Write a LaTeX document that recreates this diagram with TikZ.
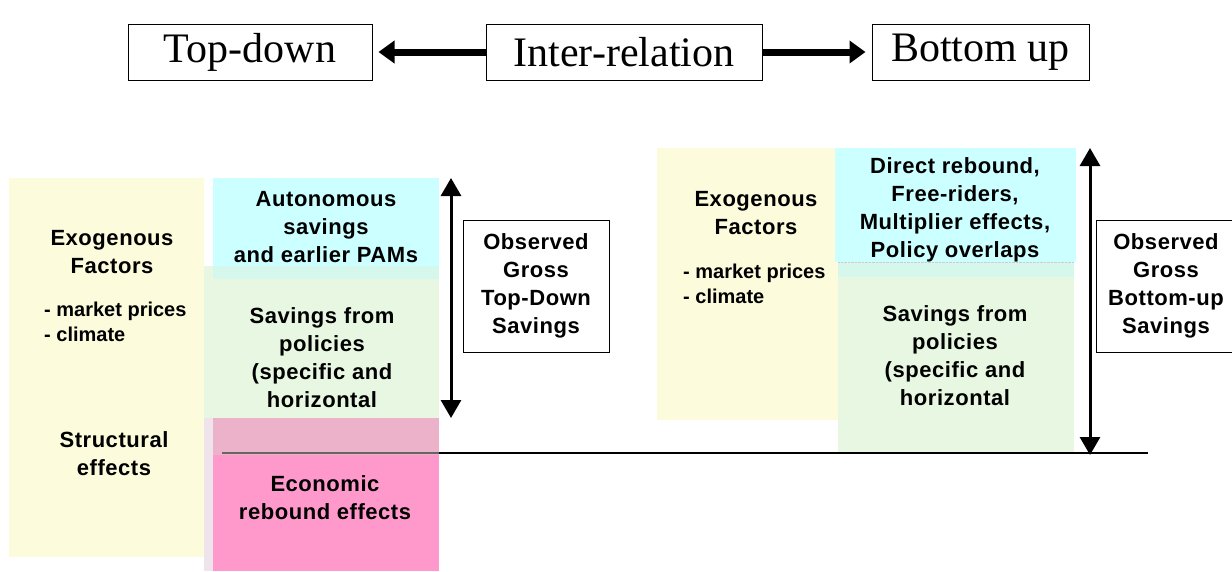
\documentclass[tikz,border=0pt]{standalone}
\usepackage{fontspec}
\setmainfont{Liberation Sans}
\newfontfamily\serifx{Liberation Serif}
\newfontfamily\lblfont[LetterSpace=2.5]{Liberation Sans}
\usetikzlibrary{arrows.meta}
\definecolor{yel}{RGB}{252,252,220}
\definecolor{cya}{RGB}{204,255,255}
\definecolor{cyafade}{RGB}{214,248,236}
\definecolor{grn}{RGB}{232,247,226}
\definecolor{pnk}{RGB}{255,153,204}
\definecolor{pnkfade}{RGB}{236,178,202}
\definecolor{strip}{RGB}{240,228,236}
\begin{document}
\begin{tikzpicture}[x=1pt,y=-1pt,
  lbl/.style={font=\lblfont\fontsize{22}{28}\selectfont\bfseries, align=center, inner sep=0pt},
  lst/.style={font=\fontsize{20}{25}\selectfont\bfseries, align=left, inner sep=0pt, anchor=west},
  topbox/.style={draw, line width=1pt, font=\serifx\fontsize{42}{44}\selectfont, minimum height=56pt, inner sep=0pt},
  obsbox/.style={draw, line width=1pt, minimum height=132pt, inner sep=0pt, font=\lblfont\fontsize{22}{28}\selectfont\bfseries, align=center},
  bigarrow/.style={line width=7pt, -{Triangle[width=22pt,length=16pt]}, shorten >=6pt},
  dblarrow/.style={line width=3pt, {Triangle[width=20pt,length=18pt]}-{Triangle[width=20pt,length=18pt]}}
]
\useasboundingbox (0,0) rectangle (1232,571);
\clip (0,0) rectangle (1232,571);

% ---------- top row ----------
\node[topbox, minimum width=244pt] (td) at (250,52) {Top-down};
\node[topbox, minimum width=276pt] (ir) at (624,52) {Inter-relation};
\node[topbox, minimum width=217pt] (bu) at (980.5,52) {Bottom up};
\draw[bigarrow] (ir.west) -- (td.east);
\draw[bigarrow] (ir.east) -- (bu.west);

% ---------- left panel ----------
\fill[yel] (9,178) rectangle (204,557);
\fill[grn] (204,266) rectangle (439,418);
\fill[cya] (213,178) rectangle (439,266);
\fill[cyafade] (213,266) rectangle (439,279);
\fill[strip] (204,418) rectangle (213,571);
\fill[pnkfade] (213,418) rectangle (439,455);
\fill[pnk] (213,455) rectangle (439,571);

\node[lbl] (exoL) at (112,252) {Exogenous\\Factors};
\node[lst] (mpL) at (44,321.5) {- market prices\\- climate};
\node[lbl] (strL) at (114,454) {Structural\\effects};
\node[lbl] (autL) at (326,227) {Autonomous\\savings\\and earlier PAMs};
\node[lbl] (savL) at (322,358) {Savings from\\policies\\(specific and\\horizontal};
\node[lbl] (ecoL) at (325,498) {Economic\\rebound effects};
\node[obsbox, minimum width=146pt] (obsL) at (536,286) {Observed\\Gross\\Top-Down\\Savings};

\coordinate (aLt) at (451,178);
\coordinate (aLb) at (451,418);
\draw[dblarrow] (aLt) -- (aLb);

% ---------- right panel ----------
\fill[yel] (657,148) rectangle (852,420);
\fill[grn] (838,262) rectangle (1074,452);
\fill[cya] (835,148) rectangle (1076,262);
\fill[cyafade] (838,262) rectangle (1074,277);
\draw[gray!40, densely dotted] (838,262) -- (1074,262);

\node[lbl] (exoR) at (756,213) {Exogenous\\Factors};
\node[lst] (mpR) at (683,283.5) {- market prices\\- climate};
\node[lbl] (dirR) at (955,209.5) {Direct rebound,\\Free-riders,\\Multiplier effects,\\Policy overlaps};
\node[lbl] (savR) at (955,356) {Savings from\\policies\\(specific and\\horizontal};
\node[obsbox, minimum width=150pt] (obsR) at (1171,286) {};
\node[lbl] (obsRt) at (1166,286) {Observed\\Gross\\Bottom-up\\Savings};

\coordinate (aRt) at (1090,148);
\coordinate (aRb) at (1090,455);
\draw[dblarrow] (aRt) -- (aRb);

% ---------- baseline ----------
\coordinate (lg0) at (222,453);
\coordinate (lg1) at (439,453);
\coordinate (lg2) at (1148,453);
\draw[line width=2pt, black!60] (lg0) -- (lg1);
\draw[line width=2pt] (lg1) -- (lg2);
\end{tikzpicture}
\end{document}
